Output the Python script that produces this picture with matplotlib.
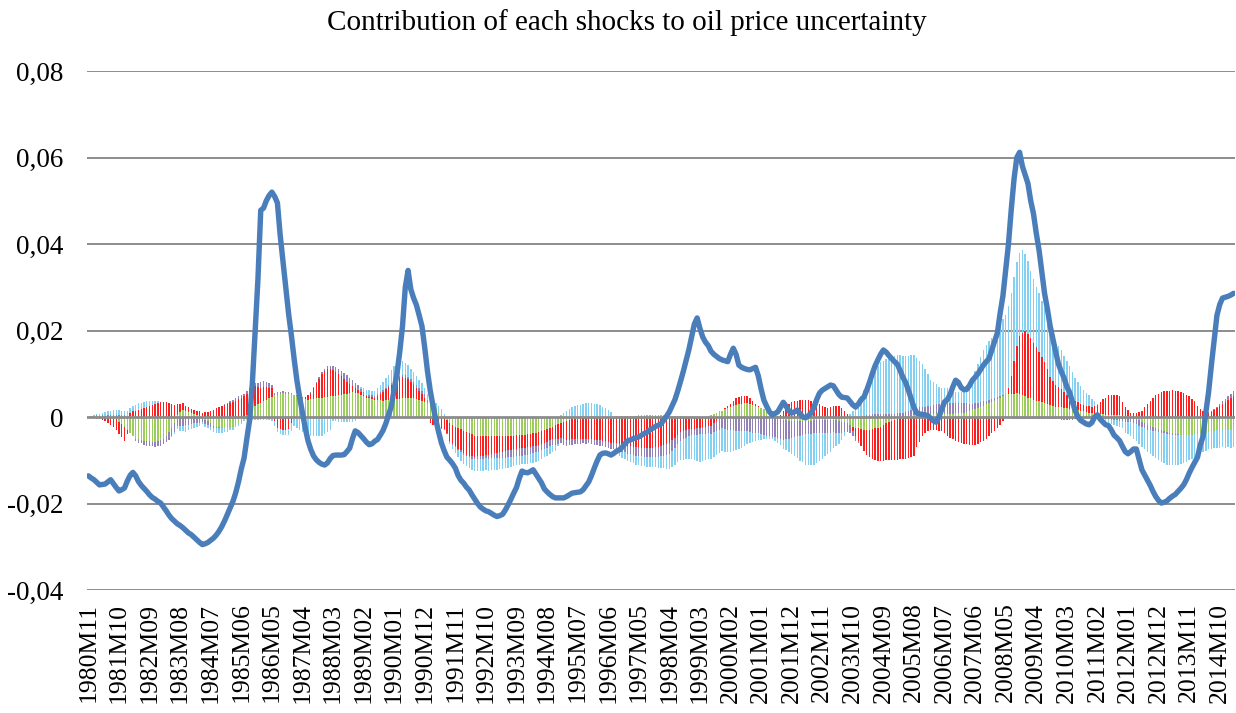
import numpy as np
import pandas as pd
import matplotlib
matplotlib.use("Agg")
import matplotlib.pyplot as plt

plt.rcParams["font.family"] = ["Liberation Serif", "DejaVu Serif"]

# monthly categories 1980M11 .. 2015M03
months = pd.period_range("1980-11", periods=413, freq="M")
categories = [f"{p.year}M{p.month:02d}" for p in months]

tick_labels = ["1980M11", "1981M10", "1982M09", "1983M08", "1984M07", "1985M06",
               "1986M05", "1987M04", "1988M03", "1989M02", "1990M01", "1990M12",
               "1991M11", "1992M10", "1993M09", "1994M08", "1995M07", "1996M06",
               "1997M05", "1998M04", "1999M03", "2000M02", "2001M01", "2001M12",
               "2002M11", "2003M10", "2004M09", "2005M08", "2006M07", "2007M06",
               "2008M05", "2009M04", "2010M03", "2011M02", "2012M01", "2012M12",
               "2013M11", "2014M10"]

# values in units of 1e-3
uncertainty = [
    -13.6, -14.1, -14.5, -15.1, -15.7, -15.6, -15.5, -15.0, -14.5, -15.4,
    -16.3, -17.1, -16.8, -16.4, -14.8, -13.5, -12.8, -13.6, -14.9, -15.8,
    -16.5, -17.2, -18.0, -18.6, -19.0, -19.5, -19.9, -20.8, -21.7, -22.7,
    -23.5, -24.1, -24.7, -25.1, -25.6, -26.2, -26.8, -27.2, -27.8, -28.4,
    -29.0, -29.5, -29.3, -29.0, -28.5, -28.0, -27.3, -26.4, -25.3, -24.0,
    -22.5, -21.0, -19.5, -17.5, -15.0, -12.0, -9.5, -5.0, -0.7, 8.0,
    20.0, 32.0, 47.8, 48.3, 50.0, 51.2, 52.0, 51.0, 49.5, 42.0,
    36.0, 30.0, 24.0, 19.0, 13.5, 8.5, 4.5, 1.0, -2.5, -5.5,
    -7.5, -9.0, -9.9, -10.5, -10.9, -11.1, -10.6, -9.6, -8.9, -8.8,
    -8.8, -8.8, -8.7, -8.0, -7.2, -5.0, -3.2, -3.6, -4.3, -5.0,
    -5.8, -6.4, -6.2, -5.6, -5.2, -4.2, -3.1, -1.5, 0.5, 2.5,
    6.5, 10.0, 15.0, 21.0, 30.0, 33.9, 29.5, 27.5, 25.9, 23.5,
    21.0, 16.0, 10.5, 6.0, 2.5, -0.7, -3.5, -6.0, -7.8, -9.3,
    -10.0, -10.8, -11.8, -13.5, -14.6, -15.3, -16.2, -16.9, -18.0, -19.0,
    -20.0, -20.8, -21.3, -21.7, -21.9, -22.3, -22.7, -23.0, -22.8, -22.5,
    -21.5, -20.3, -19.0, -17.6, -16.3, -14.2, -12.5, -12.8, -12.9, -12.6,
    -12.2, -13.2, -14.2, -15.2, -16.6, -17.3, -17.9, -18.4, -18.7, -18.7,
    -18.7, -18.7, -18.4, -18.0, -17.6, -17.5, -17.4, -17.3, -16.8, -15.9,
    -15.0, -13.5, -11.8, -10.2, -8.8, -8.4, -8.3, -8.5, -8.8, -8.4,
    -7.9, -7.6, -7.0, -6.2, -5.5, -5.3, -5.0, -4.8, -4.6, -4.2,
    -3.8, -3.5, -3.0, -2.6, -2.2, -1.9, -1.6, -0.7, 0.2, 1.2,
    2.6, 4.0, 6.0, 8.2, 10.5, 13.0, 15.5, 18.5, 21.5, 22.9,
    20.5, 18.5, 17.3, 16.5, 15.2, 14.5, 14.0, 13.5, 13.2, 13.0,
    12.8, 14.5, 15.9, 14.5, 12.0, 11.5, 11.2, 11.0, 10.9, 11.2,
    11.5, 9.5, 6.5, 3.9, 2.5, 1.2, 0.5, 0.8, 1.2, 2.3,
    3.4, 2.5, 1.4, 0.9, 1.2, 1.6, 0.8, 0.0, -0.2, 0.3,
    0.9, 2.2, 4.0, 5.5, 6.2, 6.6, 7.0, 7.4, 7.2, 6.2,
    5.2, 4.6, 4.5, 4.4, 3.6, 2.8, 2.3, 3.0, 4.0, 4.6,
    6.2, 8.0, 10.0, 11.8, 13.2, 14.5, 15.5, 15.0, 14.2, 13.5,
    12.8, 12.2, 10.8, 9.2, 8.0, 6.2, 4.2, 2.2, 0.9, 0.7,
    0.6, 0.5, 0.3, -0.3, -0.9, -1.2, 0.0, 1.8, 3.5, 4.0,
    5.2, 7.0, 8.5, 8.0, 6.8, 6.3, 6.4, 7.3, 8.5, 9.2,
    10.0, 11.0, 12.0, 12.8, 13.5, 15.5, 17.5, 19.4, 24.0, 28.0,
    34.0, 40.0, 48.0, 55.0, 60.0, 61.2, 58.0, 56.0, 54.0, 50.0,
    47.0, 42.5, 38.6, 33.5, 28.5, 25.0, 21.0, 18.0, 15.0, 12.2,
    10.5, 9.0, 7.0, 5.7, 3.5, 1.5, 0.0, -0.8, -1.2, -1.6,
    -1.8, -1.3, 0.0, 0.5, -0.5, -1.2, -1.8, -2.0, -3.0, -4.2,
    -4.8, -5.5, -6.8, -8.0, -8.5, -8.0, -7.4, -7.4, -9.8, -12.2,
    -13.4, -14.6, -15.8, -17.2, -18.4, -19.3, -19.9, -19.7, -19.4, -18.8,
    -18.3, -17.9, -17.2, -16.5, -15.7, -14.5, -13.0, -11.7, -10.5, -9.3,
    -6.5, -4.5, 1.0, 5.8, 12.0, 17.8, 23.5, 26.0, 27.5, 27.7,
    27.9, 28.2, 28.6,
]

green_shock = [
    0, 0.1, 0.1, 0.2, 0.1, 0.1, 0, -0.1, -0.3, -0.4,
    -0.5, -1.1, -1.7, -2.4, -3.0, -3.7, -4.3, -5.0, -5.2, -5.3,
    -5.5, -5.6, -5.6, -5.7, -5.8, -5.5, -5.3, -5.0, -4.3, -3.5,
    -2.5, -1.5, 0.5, 1.1, 1.7, 1.5, 1.2, 1.0, 0.8, 0.5,
    0.3, -0.1, -0.6, -1.0, -1.5, -2.0, -2.2, -2.3, -2.5, -2.4,
    -2.4, -2.3, -2.2, -1.9, -1.5, -1.2, -0.4, 0.5, 1.3, 2.0,
    2.5, 3.0, 3.3, 3.7, 4.0, 4.3, 4.7, 5.0, 5.2, 5.3,
    5.5, 5.4, 5.4, 5.3, 5.0, 4.8, 4.5, 4.3, 4.2, 4.0,
    4.1, 4.2, 4.3, 4.4, 4.5, 4.6, 4.7, 4.8, 4.9, 4.9,
    5.0, 5.1, 5.3, 5.4, 5.6, 5.7, 5.6, 5.5, 5.2, 4.8,
    4.5, 4.3, 4.2, 4.0, 3.9, 3.9, 3.8, 3.9, 3.9, 4.0,
    4.0, 4.1, 4.2, 4.3, 4.3, 4.3, 4.3, 4.3, 4.1, 4.0,
    3.8, 3.5, 3.3, 3.0, 2.5, 2.0, 1.5, 0.9, 0.3, -0.6,
    -1.5, -1.8, -2.2, -2.5, -2.8, -3.2, -3.5, -3.8, -4.0, -4.3,
    -4.3, -4.4, -4.4, -4.4, -4.5, -4.5, -4.5, -4.5, -4.4, -4.4,
    -4.4, -4.3, -4.3, -4.3, -4.2, -4.2, -4.1, -4.1, -4.0, -3.9,
    -3.8, -3.6, -3.5, -3.2, -3.0, -2.8, -2.5, -2.2, -1.9, -1.7,
    -1.4, -1.2, -0.9, -0.7, -0.5, -0.4, -0.4, -0.3, -0.2, -0.2,
    -0.1, -0.1, -0.1, 0, 0, 0, 0, 0.1, 0.1, 0.1,
    0.2, 0.2, 0.2, 0.2, 0.3, 0.3, 0.3, 0.3, 0.4, 0.4,
    0.4, 0.4, 0.4, 0.5, 0.5, 0.5, 0.5, 0.4, 0.4, 0.3,
    0.3, 0.3, 0.2, 0.2, 0.1, 0.1, 0, 0, 0, 0,
    0, 0, 0, 0.3, 0.5, 0.8, 1.0, 1.3, 1.5, 1.8,
    2.0, 2.3, 2.5, 2.8, 3.0, 3.1, 3.2, 3.2, 3.0, 2.7,
    2.5, 2.3, 2.0, 1.8, 1.5, 1.1, 0.7, 0.3, -0.1, -0.4,
    -0.8, -0.8, -0.9, -0.9, -1.0, -1.0, -1.0, -0.9, -0.9, -0.9,
    -0.9, -0.8, -0.8, -0.8, -0.7, -0.7, -0.7, -0.7, -0.6, -0.8,
    -0.9, -1.1, -1.2, -1.5, -1.9, -2.2, -2.5, -2.6, -2.8, -2.9,
    -3.0, -2.9, -2.8, -2.6, -2.5, -2.2, -1.8, -1.5, -1.2, -1.0,
    -0.7, -0.5, -0.2, -0.1, 0.1, 0.2, 0.3, 0.4, 0.4, 0.5,
    0.5, 0.5, 0.6, 0.6, 0.7, 0.7, 0.7, 0.7, 0.8, 0.8,
    0.8, 0.8, 0.9, 0.9, 1.0, 1.0, 1.2, 1.4, 1.6, 1.8,
    2.0, 2.3, 2.6, 2.9, 3.2, 3.5, 3.8, 4.2, 4.5, 4.8,
    5.0, 5.3, 5.4, 5.4, 5.5, 5.3, 5.0, 4.8, 4.5, 4.3,
    4.0, 3.8, 3.6, 3.4, 3.2, 3.0, 2.8, 2.6, 2.4, 2.3,
    2.2, 2.1, 2.0, 1.9, 1.8, 1.7, 1.6, 1.4, 1.3, 1.1,
    1.0, 0.9, 0.8, 0.7, 0.6, 0.6, 0.5, 0.5, 0.5, 0.4,
    0.4, 0.4, 0.3, 0.3, 0.2, 0, -0.3, -0.5, -0.8, -1.2,
    -1.5, -1.8, -2.0, -2.3, -2.5, -2.8, -3.0, -3.3, -3.5, -3.6,
    -3.8, -3.9, -4.0, -4.1, -4.1, -4.2, -4.2, -4.1, -4.0, -3.9,
    -3.8, -3.7, -3.6, -3.4, -3.3, -3.2, -3.1, -3.1, -3.0, -3.0,
    -2.9, -2.9, -2.8,
]

red_shock = [
    0, -0.1, -0.3, -0.4, -0.5, -0.8, -1.0, -1.3, -1.5, -1.9,
    -2.4, -2.8, -3.0, -3.2, -1.0, 1.0, 1.3, 1.5, 1.7, 1.8,
    2.0, 2.3, 2.5, 2.8, 3.0, 3.3, 3.5, 3.5, 3.5, 3.3,
    3.0, 2.8, 2.5, 2.0, 1.5, 1.0, 1.0, 0.9, 0.9, 0.9,
    1.0, 1.0, 1.1, 1.2, 1.3, 1.7, 2.0, 2.3, 2.5, 2.8,
    3.0, 3.3, 3.5, 3.8, 4.2, 4.5, 4.8, 4.8, 4.8, 4.7,
    4.6, 4.0, 3.5, 3.2, 3.0, 2.5, 2.0, -1.0, -2.5, -2.8,
    -3.0, -2.9, -2.8, -1.5, 0, 0, 0, 0.2, 0.5, 1.0,
    1.5, 2.5, 3.5, 4.5, 5.5, 6.0, 6.5, 6.3, 6.0, 5.5,
    5.0, 4.3, 3.5, 2.8, 2.0, 1.5, 1.0, 0.8, 0.5, 0.4,
    0.3, 0.4, 0.4, 0.5, 1.0, 1.5, 2.0, 2.5, 3.0, 3.5,
    4.0, 4.5, 4.8, 5.0, 4.8, 4.5, 3.8, 3.0, 2.5, 2.0,
    1.5, 1.0, 0, -1.5, -1.9, -2.2, -2.4, -2.5, -2.8, -3.0,
    -4.0, -4.3, -4.5, -4.8, -4.9, -5.1, -5.2, -5.1, -5.1, -5.0,
    -4.8, -4.7, -4.5, -4.3, -4.2, -4.0, -3.9, -3.8, -3.7, -3.6,
    -3.5, -3.4, -3.3, -3.2, -3.1, -3.0, -3.0, -3.0, -3.0, -3.0,
    -3.0, -3.0, -3.0, -3.0, -2.9, -2.9, -2.8, -3.0, -3.2, -3.3,
    -3.5, -4.0, -4.5, -4.6, -4.7, -4.7, -4.8, -4.8, -4.9, -5.0,
    -5.0, -5.1, -5.2, -5.3, -5.4, -5.5, -5.6, -5.7, -5.9, -6.0,
    -6.1, -6.3, -6.4, -6.5, -6.7, -6.8, -6.9, -7.0, -7.0, -7.1,
    -7.2, -7.2, -7.1, -7.1, -7.0, -7.0, -6.8, -6.5, -6.3, -6.0,
    -5.4, -4.8, -4.1, -3.5, -3.3, -3.0, -2.8, -2.7, -2.7, -2.6,
    -2.5, -2.4, -2.3, -2.1, -2.0, -1.5, -1.0, -0.5, 0, 0.3,
    0.5, 0.8, 1.2, 1.5, 1.7, 1.8, 1.7, 1.6, 1.5, 1.0,
    0.5, 0.3, 0, 0, 0, 0, 0, 0.2, 0.3, 0.5,
    1.5, 2.5, 3.0, 3.5, 3.7, 3.8, 4.0, 4.0, 4.0, 4.0,
    3.8, 3.7, 3.5, 3.0, 2.5, 2.3, 2.0, 2.3, 2.5, 2.5,
    2.5, 2.0, 1.5, 0.8, 0, -1.0, -2.0, -3.0, -4.0, -5.0,
    -5.7, -6.3, -7.0, -7.3, -7.7, -8.0, -8.3, -8.5, -8.8, -9.0,
    -9.3, -9.5, -9.6, -9.7, -9.8, -9.5, -9.3, -9.0, -7.0, -5.8,
    -4.5, -3.8, -3.2, -3.1, -3.0, -3.0, -3.2, -3.3, -3.8, -4.3,
    -4.8, -5.1, -5.5, -5.8, -6.0, -6.2, -6.3, -6.4, -6.4, -6.5,
    -6.2, -5.8, -5.5, -5.0, -4.4, -3.8, -3.2, -2.6, -1.8, -1.0,
    0, 1.5, 4.0, 7.5, 11.0, 13.5, 14.5, 15.0, 14.8, 14.0,
    13.0, 12.3, 11.5, 10.5, 9.5, 8.0, 6.5, 5.8, 5.0, 4.6,
    4.2, 3.7, 3.2, 2.8, 2.4, 2.0, 1.8, 1.7, 1.5, 1.5,
    1.5, 1.5, 1.8, 2.0, 2.8, 3.5, 4.0, 4.5, 4.7, 4.8,
    4.7, 4.5, 3.2, 2.0, 1.5, 1.0, 1.0, 1.0, 1.2, 1.5,
    2.2, 3.0, 3.7, 4.3, 5.0, 5.3, 5.7, 6.0, 6.1, 6.1,
    6.2, 6.1, 6.0, 5.8, 5.5, 5.2, 4.8, 4.2, 3.5, 2.5,
    1.8, 1.3, 1.0, 1.0, 1.2, 1.6, 2.0, 2.5, 3.0, 3.5,
    4.0, 4.4, 4.8,
]

purple_shock = [
    0, 0.1, 0.1, 0.2, 0.2, 0.3, 0.3, 0.4, 0.4, 0.5,
    0.5, 0.5, 0.4, 0.4, 0.3, 0, -0.2, -0.5, -0.7, -0.8,
    -1.0, -1.0, -1.1, -1.1, -1.2, -1.2, -1.3, -1.3, -1.5, -1.8,
    -1.9, -2.0, -2.0, -2.0, -2.0, -1.9, -1.8, -1.6, -1.5, -1.4,
    -1.3, -1.1, -1.0, -0.8, -0.7, -0.5, -0.3, -0.2, 0, 0.1,
    0.2, 0.3, 0.4, 0.5, 0.6, 0.6, 0.6, 0.7, 0.7, 0.7,
    0.8, 0.8, 1.2, 1.5, 1.2, 1.0, 0.8, 0.5, 0.5, 0.5,
    0.5, 0.4, 0.3, 0.3, 0.2, 0.2, 0.1, 0.1, 0, 0.1,
    0.2, 0.2, 0.3, 0.4, 0.5, 0.6, 0.7, 0.8, 0.9, 1.1,
    1.2, 1.3, 1.4, 1.5, 1.4, 1.4, 1.3, 1.1, 0.8, 0.6,
    0.4, 0.4, 0.4, 0.4, 0.4, 0.4, 0.4, 0.4, 0.4, 0.4,
    0.4, 0.4, 0.4, 0.5, 0.5, 0.5, 0.6, 0.7, 0.8, 0.8,
    0.8, 0.8, 0.6, 0.3, 0.2, 0.1, 0, -0.2, -0.3, -0.3,
    -0.3, -0.3, -0.3, -0.3, -0.4, -0.4, -0.4, -0.4, -0.5, -0.5,
    -0.6, -0.7, -0.8, -0.8, -0.9, -1.0, -1.1, -1.2, -1.3, -1.4,
    -1.5, -1.6, -1.6, -1.7, -1.7, -1.8, -1.8, -1.7, -1.7, -1.6,
    -1.6, -1.6, -1.5, -1.5, -1.4, -1.4, -1.4, -1.3, -1.3, -1.2,
    -1.2, -1.2, -1.2, -1.2, -1.2, -1.2, -1.1, -1.1, -1.0, -1.0,
    -1.0, -1.0, -1.1, -1.1, -1.2, -1.2, -1.3, -1.4, -1.4, -1.5,
    -1.6, -1.6, -1.7, -1.7, -1.8, -1.8, -1.8, -1.9, -1.9, -2.0,
    -2.0, -2.0, -2.1, -2.1, -2.2, -2.2, -2.3, -2.4, -2.4, -2.5,
    -2.4, -2.3, -2.1, -2.0, -1.9, -1.8, -1.6, -1.5, -1.5, -1.5,
    -1.5, -1.5, -1.6, -1.7, -1.9, -2.0, -2.2, -2.4, -2.6, -2.8,
    -2.9, -3.0, -3.1, -3.2, -3.2, -3.3, -3.3, -3.3, -3.4, -3.6,
    -3.7, -3.8, -4.0, -4.2, -4.3, -4.5, -4.6, -4.7, -4.8, -4.6,
    -4.5, -4.3, -4.1, -3.9, -3.7, -3.5, -3.4, -3.3, -3.1, -3.0,
    -3.0, -3.0, -3.0, -3.0, -2.9, -2.9, -2.9, -2.9, -2.8, -2.8,
    -2.8, -2.5, -2.3, -2.0, -1.7, -1.3, -1.0, -0.5, 0, 0.3,
    0.5, 0.5, 0.6, 0.6, 0.7, 0.7, 0.7, 0.7, 0.8, 0.8,
    0.8, 0.9, 1.0, 1.0, 1.1, 1.2, 1.3, 1.4, 1.6, 1.7,
    1.8, 1.9, 2.0, 2.0, 2.1, 2.2, 2.2, 2.3, 2.3, 2.4,
    2.4, 2.4, 2.3, 2.3, 2.2, 2.2, 2.0, 1.7, 1.5, 1.4,
    1.3, 1.1, 1.0, 0.9, 0.8, 0.6, 0.5, 0.4, 0.3, 0.3,
    0.2, 0, -0.3, -0.4, -0.4, -0.5, -0.5, -0.5, -0.5, -0.5,
    -0.5, -0.5, -0.5, -0.5, -0.5, -0.5, -0.5, -0.5, -0.5, -0.5,
    -0.6, -0.6, -0.6, -0.6, -0.6, -0.5, -0.5, -0.4, -0.4, -0.3,
    -0.3, -0.3, -0.2, -0.2, -0.2, -0.3, -0.4, -0.5, -0.6, -0.7,
    -0.8, -0.9, -1.0, -1.1, -1.2, -1.2, -1.2, -1.2, -1.2, -1.2,
    -1.1, -1.1, -1.0, -0.9, -0.8, -0.7, -0.6, -0.5, -0.5, -0.4,
    -0.3, -0.2, -0.2, -0.1, -0.1, 0, 0, 0, 0.1, 0.1,
    0.1, 0.1, 0.2, 0.2, 0.3, 0.3, 0.4, 0.5, 0.6, 0.7,
    0.8, 1.0, 1.1,
]

blue_shock = [
    0, 0.1, 0.2, 0.3, 0.5, 0.6, 0.8, 0.9, 1.1, 1.2,
    1.1, 1.1, 1.0, 1.0, 1.0, 1.0, 1.2, 1.3, 1.5, 1.4,
    1.4, 1.3, 1.1, 1.0, 0.8, 0.4, 0, 0, 0, 0,
    -0.2, -0.5, -0.8, -1.2, -1.3, -1.5, -1.3, -1.2, -1.0, -0.8,
    -0.7, -0.5, -0.6, -0.7, -0.8, -1.0, -1.2, -1.2, -1.2, -1.1,
    -1.0, -0.8, -0.7, -0.5, -0.5, -0.5, -0.5, -0.6, -0.6, -0.7,
    -0.7, -0.8, -0.8, -0.8, -0.8, -0.8, -0.9, -1.0, -1.0, -1.1,
    -1.2, -1.2, -1.3, -1.7, -2.1, -2.5, -3.0, -3.5, -4.0, -4.2,
    -4.3, -4.5, -4.5, -4.5, -4.5, -4.0, -3.5, -3.0, -1.0, -1.0,
    -1.1, -1.1, -1.2, -1.2, -1.1, -1.1, -1.0, -0.2, 0.5, 0.8,
    1.0, 1.1, 1.1, 1.2, 1.3, 1.5, 1.8, 2.2, 2.5, 3.0,
    3.5, 3.3, 3.2, 3.1, 3.0, 2.8, 2.5, 2.3, 2.0, 1.8,
    1.7, 1.5, 1.4, 1.3, 1.2, 1.1, 1.1, 1.0, 0.5, 0,
    -0.5, -1.0, -1.3, -1.7, -2.0, -2.2, -2.3, -2.5, -2.6, -2.6,
    -2.7, -2.7, -2.7, -2.8, -2.8, -2.8, -2.7, -2.7, -2.6, -2.6,
    -2.5, -2.4, -2.3, -2.2, -2.1, -2.0, -2.0, -2.1, -2.1, -2.2,
    -2.2, -2.2, -2.1, -2.1, -2.0, -2.0, -1.8, -1.7, -1.5, -0.5,
    0.5, 1.0, 1.5, 1.8, 2.2, 2.5, 2.7, 2.8, 3.0, 3.2,
    3.3, 3.2, 3.1, 3.0, 2.7, 2.3, 2.0, 1.5, 1.0, 0,
    -0.8, -1.0, -1.3, -1.5, -1.7, -1.8, -2.0, -2.1, -2.1, -2.2,
    -2.2, -2.3, -2.3, -2.4, -2.4, -2.5, -2.8, -3.0, -3.3, -3.5,
    -3.8, -4.0, -4.3, -4.5, -4.8, -5.0, -5.3, -5.5, -5.8, -6.1,
    -6.4, -6.3, -6.1, -6.0, -5.8, -5.7, -5.5, -5.4, -5.3, -5.2,
    -5.1, -5.0, -4.7, -4.5, -4.2, -3.8, -3.4, -3.0, -2.6, -2.2,
    -1.8, -1.5, -1.3, -1.0, -0.8, -0.7, -0.5, -0.8, -1.0, -1.5,
    -2.0, -2.5, -3.0, -3.7, -4.3, -5.0, -5.7, -6.3, -7.0, -7.1,
    -7.1, -7.2, -6.8, -6.4, -6.0, -5.5, -5.0, -4.5, -3.8, -3.2,
    -2.5, -1.8, -1.0, 0, 0.8, 1.5, 2.5, 3.5, 4.8, 6.0,
    7.2, 8.3, 9.5, 10.3, 11.2, 12.0, 12.3, 12.7, 13.0, 13.2,
    13.3, 13.5, 13.3, 13.2, 13.0, 12.8, 12.7, 12.5, 11.7, 10.8,
    10.0, 8.7, 7.3, 6.0, 5.3, 4.7, 4.0, 3.8, 3.7, 3.5,
    3.2, 2.8, 2.5, 2.5, 2.5, 3.2, 4.0, 5.0, 6.0, 7.5,
    9.0, 10.5, 12.0, 12.8, 13.5, 14.2, 14.8, 15.5, 16.5, 17.5,
    18.5, 18.8, 19.2, 19.5, 19.3, 19.2, 19.0, 17.8, 16.7, 15.5,
    14.8, 14.0, 13.5, 13.0, 12.5, 12.0, 11.3, 10.7, 10.0, 9.5,
    9.0, 8.3, 7.7, 7.0, 6.2, 5.4, 4.8, 4.1, 3.5, 3.0,
    2.5, 1.8, 1.0, 0.3, -0.1, -0.5, -0.7, -0.8, -1.0, -1.1,
    -1.3, -1.4, -1.5, -2.5, -2.8, -3.2, -3.5, -3.8, -4.2, -4.5,
    -4.8, -5.2, -5.5, -5.8, -6.2, -6.5, -6.7, -6.8, -7.0, -7.0,
    -7.0, -7.0, -6.8, -6.7, -6.5, -6.2, -5.8, -5.5, -5.2, -4.8,
    -4.5, -4.4, -4.3, -4.1, -4.0, -4.0, -4.0, -4.0, -4.0, -4.1,
    -4.1, -4.2, -4.2,
]

shocks = [green_shock, red_shock, purple_shock, blue_shock]
colors = ["#9BCC5C", "#FF1E1E", "#9282B8", "#84D0F3"]

fig = plt.figure(figsize=(12.36, 7.13), dpi=100)
ax = fig.add_axes([0.0704, 0.1725, 0.9288, 0.7279])

x = np.arange(len(categories))
pos = np.zeros(len(x))
neg = np.zeros(len(x))
for vals, col in zip(shocks, colors):
    v = np.array(vals) * 1e-3
    bottom = np.where(v >= 0, pos, neg)
    ax.bar(x, v, width=0.5, bottom=bottom, color=col, linewidth=0, zorder=2)
    pos += np.clip(v, 0, None)
    neg += np.clip(v, None, 0)

ax.plot(x, np.array(uncertainty) * 1e-3, color="#4A7EBB", lw=3.9,
        solid_joinstyle="round", solid_capstyle="round", zorder=4)

# gridlines and zero axis
yticks = [-0.04, -0.02, 0, 0.02, 0.04, 0.06, 0.08]
for yv in yticks:
    if yv != 0:
        ax.axhline(yv, color="#8C8C8C", lw=1.4, zorder=1)
ax.axhline(0, color="#8C8C8C", lw=2.0, zorder=3)

ax.set_xlim(-0.5, len(x) - 0.5)
ax.set_ylim(-0.04, 0.08)
for s in ax.spines.values():
    s.set_visible(False)

ax.set_yticks(yticks)
ax.set_yticklabels(["-0,04", "-0,02", "0", "0,02", "0,04", "0,06", "0,08"], fontsize=19.5)
tick_pos = [categories.index(t) for t in tick_labels]
ax.set_xticks(tick_pos)
ax.set_xticklabels(tick_labels, rotation=90, fontsize=18.5)
ax.tick_params(axis="y", length=0, pad=17)
ax.tick_params(axis="x", length=0, pad=9)

fig.text(0.507, 0.968, "Contribution of each shocks to oil price uncertainty",
         ha="center", va="center", fontsize=21)

fig.savefig("out.png", dpi=100)
